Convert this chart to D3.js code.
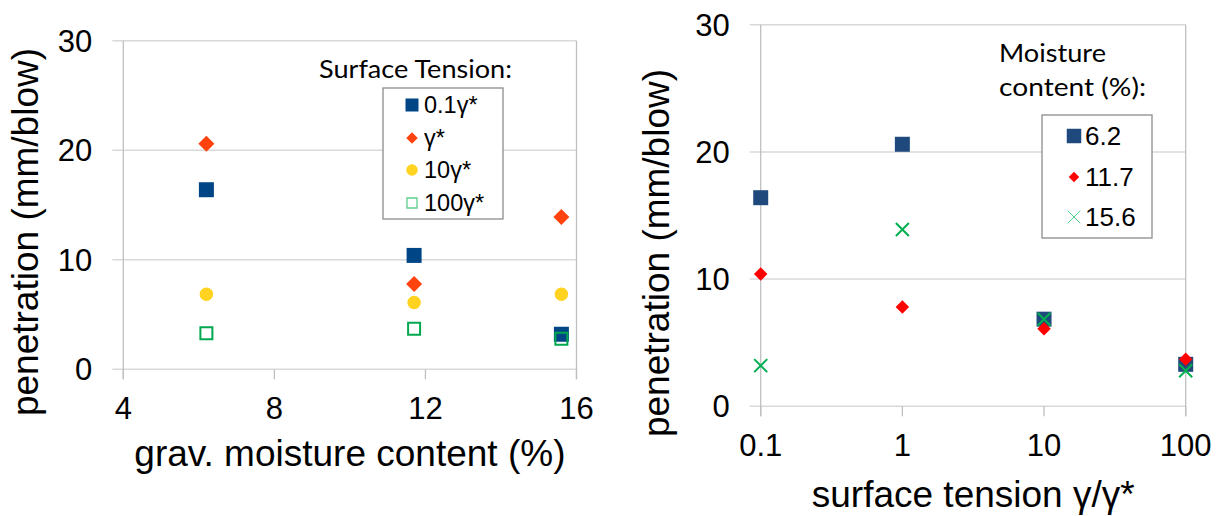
<!DOCTYPE html>
<html>
<head>
<meta charset="utf-8">
<script src="https://cdn.jsdelivr.net/npm/d3@7"></script>
<style>
  html, body { margin: 0; padding: 0; background: #fff; }
  svg { display: block; }
  .tick-label { font-family: "Liberation Sans", Arial, sans-serif; font-size: 31px; fill: #000; }
  .axis-title { font-family: "Liberation Sans", Arial, sans-serif; font-size: 37px; fill: #000; }
  .legend-title { font-family: Lato, "Open Sans", sans-serif; font-size: 25px; fill: #000; }
  .legend-text { font-family: "Liberation Sans", Arial, sans-serif; fill: #000; }
</style>
</head>
<body>
<svg id="chart" width="1220" height="516"></svg>
<script>
// Gravimetric moisture contents (%) and surface tension ratios γ/γ*
const moisture = [6.2, 11.7, 15.6];
const tensionRatio = [0.1, 1, 10, 100];
const tensionLabels = ["0.1γ*", "γ*", "10γ*", "100γ*"];
const moistureLabels = ["6.2", "11.7", "15.6"];

// Penetration (mm/blow) at each moisture content, one array per surface tension
const pen01 = [16.4, 10.4, 3.2];
const pen1 = [20.6, 7.8, 13.9];
const pen10 = [6.85, 6.1, 6.85];
const pen100 = [3.3, 3.7, 2.8];

const yTicks = [0, 10, 20, 30];
const xTicksLeft = [4, 8, 12, 16];
const xTicksRight = [0.1, 1, 10, 100];

const bySurfaceTension = [pen01, pen1, pen10, pen100];

const svg = d3.select("#chart");
const gridColor = "#d9d9d9";
const axisColor = "#bfbfbf";

// marker path builders
const squarePath = s => d3.symbol(d3.symbolSquare, s * s)();
const diamondPath = w => d3.symbol(d3.symbolSquare, (w / Math.SQRT2) ** 2)();
const circlePath = d => d3.symbol(d3.symbolCircle, Math.PI * (d / 2) ** 2)();
const crossPath = w => { const h = w / 2; return `M${-h},${-h}L${h},${h}M${-h},${h}L${h},${-h}`; };

function drawFrame(g, x, y, xTicks, xFmt, x0, x1) {
  const [yb, yt] = y.range();
  // horizontal gridlines with outward tick
  g.selectAll(".grid").data(yTicks).join("line")
    .attr("x1", x0 - 11).attr("x2", x1)
    .attr("y1", d => y(d)).attr("y2", d => y(d))
    .attr("stroke", gridColor).attr("stroke-width", 1.5);
  // vertical axis and right border
  [x0, x1].forEach(xx => g.append("line")
    .attr("x1", xx).attr("x2", xx).attr("y1", yt).attr("y2", yb + 10)
    .attr("stroke", axisColor).attr("stroke-width", 1.3));
  // x ticks
  g.selectAll(".xtick").data(xTicks).join("line")
    .attr("x1", d => x(d)).attr("x2", d => x(d))
    .attr("y1", yb).attr("y2", yb + 10)
    .attr("stroke", axisColor).attr("stroke-width", 1.3);
  // tick labels
  g.selectAll(".ylab").data(yTicks).join("text")
    .attr("class", "tick-label")
    .attr("x", x0 - 31).attr("y", d => y(d)).attr("dy", "0.36em")
    .attr("text-anchor", "end").text(d => d);
  g.selectAll(".xlab").data(xTicks).join("text")
    .attr("class", "tick-label")
    .attr("x", d => x(d)).attr("y", yb + 50)
    .attr("text-anchor", "middle").text(xFmt);
}

// ---------- Left: penetration vs. moisture content ----------
{
  const x = d3.scaleLinear().domain([4, 16]).range([123.3, 576.5]);
  const y = d3.scaleLinear().domain([0, 30]).range([369.3, 40.8]);
  const g = svg.append("g");
  drawFrame(g, x, y, xTicksLeft, d => d, x(4), x(16));

  g.append("text").attr("class", "axis-title")
    .attr("transform", "translate(38,232) rotate(-90)")
    .attr("text-anchor", "middle").text("penetration (mm/blow)");
  g.append("text").attr("class", "axis-title")
    .attr("x", (x(4) + x(16)) / 2).attr("y", 466)
    .attr("text-anchor", "middle").text("grav. moisture content (%)");

  const styles = [
    { path: squarePath(15), fill: "#004586", stroke: "none", lpath: squarePath(13) },
    { path: diamondPath(16), fill: "#ff420e", stroke: "none", rot: 45, lpath: diamondPath(11.5) },
    { path: circlePath(13.5), fill: "#ffd320", stroke: "none", lpath: circlePath(11.5) },
    { path: squarePath(12), fill: "none", stroke: "#00a84f", sw: 2, lpath: squarePath(10), lstroke: "#5fcf8f", lsw: 1.3 }
  ];

  bySurfaceTension.forEach((vals, i) => {
    const st = styles[i];
    g.append("g").selectAll("path").data(moisture).join("path")
      .attr("d", st.path)
      .attr("transform", (m, j) => `translate(${x(m)},${y(vals[j])})` + (st.rot ? ` rotate(${st.rot})` : ""))
      .attr("fill", st.fill).attr("stroke", st.stroke).attr("stroke-width", st.sw || 0);
  });

  // legend
  g.append("text").attr("class", "legend-title").attr("x", 319).attr("y", 78)
    .attr("textLength", 193).attr("lengthAdjust", "spacingAndGlyphs").text("Surface Tension:");
  g.append("rect").attr("x", 383).attr("y", 88).attr("width", 120).attr("height", 131)
    .attr("fill", "#fff").attr("stroke", "#8c8c8c").attr("stroke-width", 1.3);
  const rows = [105, 138, 170, 203];
  tensionLabels.forEach((lab, i) => {
    const st = styles[i];
    g.append("path").attr("d", st.lpath)
      .attr("transform", `translate(412,${rows[i]})` + (st.rot ? ` rotate(${st.rot})` : ""))
      .attr("fill", st.fill).attr("stroke", st.lstroke || "none").attr("stroke-width", st.lsw || 0);
    g.append("text").attr("class", "legend-text").style("font-size", "23.5px")
      .attr("x", 424).attr("y", rows[i]).attr("dy", "0.36em").text(lab);
  });
}

// ---------- Right: penetration vs. surface tension ----------
{
  const x = d3.scaleLog().domain([0.1, 100]).range([760.7, 1185.7]);
  const y = d3.scaleLinear().domain([0, 30]).range([406.3, 24.7]);
  const g = svg.append("g");
  drawFrame(g, x, y, xTicksRight, d => d, x(0.1), x(100));

  g.append("text").attr("class", "axis-title")
    .attr("transform", "translate(669,253) rotate(-90)")
    .attr("text-anchor", "middle").text("penetration (mm/blow)");
  g.append("text").attr("class", "axis-title")
    .attr("x", (x(0.1) + x(100)) / 2).attr("y", 507)
    .attr("text-anchor", "middle").text("surface tension γ/γ*");

  const styles = [
    { path: squarePath(15), fill: "#1f497d", lpath: squarePath(14.5) },
    { path: diamondPath(13.5), fill: "#ff0000", rot: 45, lpath: diamondPath(10.5) },
    { path: crossPath(13), fill: "none", stroke: "#00b050", sw: 2, lpath: crossPath(12.5), lstroke: "#4fd08a", lsw: 1 }
  ];

  moisture.forEach((m, j) => {
    const st = styles[j];
    const vals = bySurfaceTension.map(arr => arr[j]);
    g.append("g").selectAll("path").data(tensionRatio).join("path")
      .attr("d", st.path)
      .attr("transform", (t, k) => `translate(${x(t)},${y(vals[k])})` + (st.rot ? ` rotate(${st.rot})` : ""))
      .attr("fill", st.fill).attr("stroke", st.stroke || "none").attr("stroke-width", st.sw || 0);
  });

  g.append("text").attr("class", "legend-title").attr("x", 999).attr("y", 62)
    .attr("textLength", 107).attr("lengthAdjust", "spacingAndGlyphs").text("Moisture");
  g.append("text").attr("class", "legend-title").attr("x", 999).attr("y", 96)
    .attr("textLength", 147).attr("lengthAdjust", "spacingAndGlyphs").text("content (%):");
  g.append("rect").attr("x", 1042).attr("y", 115).attr("width", 110).attr("height", 123)
    .attr("fill", "#fff").attr("stroke", "#8c8c8c").attr("stroke-width", 1.3);
  const rows = [136, 177, 217];
  moistureLabels.forEach((lab, j) => {
    const st = styles[j];
    g.append("path").attr("d", st.lpath)
      .attr("transform", `translate(1074,${rows[j]})` + (st.rot ? ` rotate(${st.rot})` : ""))
      .attr("fill", st.fill).attr("stroke", st.lstroke || "none").attr("stroke-width", st.lsw || 0);
    g.append("text").attr("class", "legend-text").style("font-size", "26px")
      .attr("x", 1085).attr("y", rows[j]).attr("dy", "0.36em").text(lab);
  });
}
</script>
</body>
</html>
